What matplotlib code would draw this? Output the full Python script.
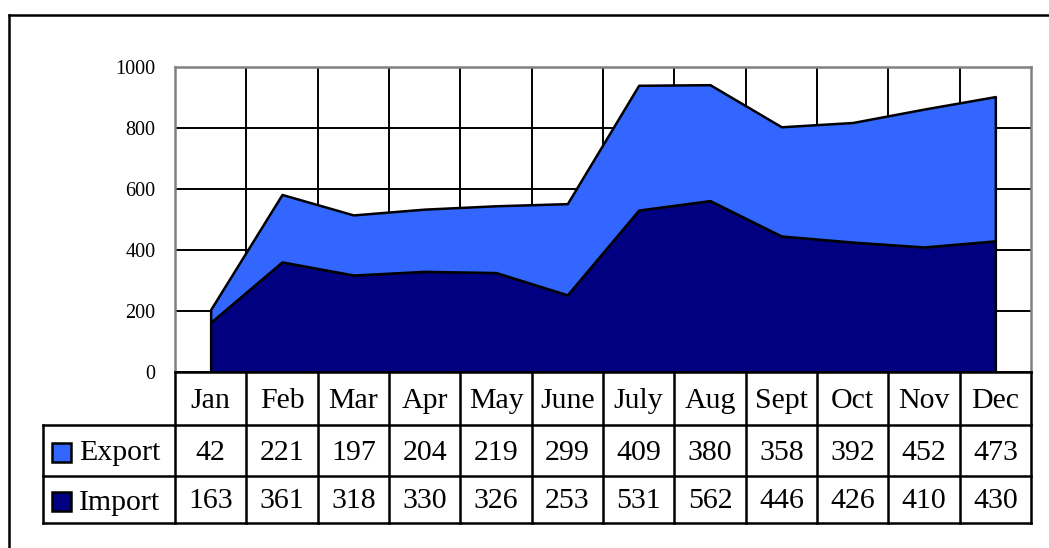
import numpy as np
import matplotlib
matplotlib.use("Agg")
import matplotlib.pyplot as plt
from matplotlib.lines import Line2D
from matplotlib.patches import Rectangle

# data
months = ["Jan", "Feb", "Mar", "Apr", "May", "June", "July", "Aug", "Sept", "Oct", "Nov", "Dec"]
export_vals = [42, 221, 197, 204, 219, 299, 409, 380, 358, 392, 452, 473]
import_vals = [163, 361, 318, 330, 326, 253, 531, 562, 446, 426, 410, 430]
yticks = [0, 200, 400, 600, 800, 1000]

export_color = "#3366FF"
import_color = "#000080"
serif = "Liberation Serif"

W, H = 1049, 548
fig = plt.figure(figsize=(W / 100, H / 100), dpi=100)

# plot area (pixel layout converted to figure fractions)
ax = fig.add_axes([175 / W, 1 - 372 / H, 856 / W, 305 / H])
x = np.arange(len(months))
imp = np.array(import_vals)
exp_ = np.array(export_vals)

ax.fill_between(x, 0, imp, facecolor=import_color, edgecolor="black", lw=1.8, zorder=2)
ax.fill_between(x, imp, imp + exp_, facecolor=export_color, edgecolor="black", lw=1.8, zorder=2)

ax.set_xlim(-0.5, len(months) - 0.5)
ax.set_ylim(0, 1000)
ax.set_xticks(x[:-1] + 0.5)
ax.set_yticks(yticks)
ax.set_yticklabels([str(v) for v in yticks], fontfamily=serif, fontsize=14.5)
ax.tick_params(axis="x", length=0, labelbottom=False)
ax.tick_params(axis="y", length=0, pad=14)
ax.grid(True, color="black", lw=1.4)
ax.set_axisbelow(True)
for side in ["left", "top", "right"]:
    ax.spines[side].set_color("#808080")
    ax.spines[side].set_linewidth(1.8)
ax.spines["bottom"].set_color("black")

# data table below the plot; rows laid out in pixel rows of the image
row_edges = [372, 425, 476, 523]
col_w = 856 / 12
xl = -0.5 - 132 / col_w
tax = fig.add_axes([43 / W, 1 - row_edges[-1] / H, (1031 - 43) / W, (row_edges[-1] - row_edges[0]) / H])
tax.set_xlim(xl, len(months) - 0.5)
tax.set_ylim(row_edges[-1], row_edges[0])
tax.axis("off")

lw = 1.8
xr = len(months) - 0.5
tax.plot([-0.5, xr], [row_edges[0]] * 2, color="black", lw=lw, clip_on=False)
for yy in row_edges[1:]:
    tax.plot([xl, xr], [yy, yy], color="black", lw=lw, clip_on=False)
for k in range(len(months) + 1):
    tax.plot([k - 0.5, k - 0.5], [row_edges[0], row_edges[-1]], color="black", lw=lw, clip_on=False)
tax.plot([xl, xl], [row_edges[1], row_edges[-1]], color="black", lw=lw, clip_on=False)

mids = [(row_edges[r] + row_edges[r + 1]) / 2 + 2 for r in range(3)]
fs = 21.5
for i, m in enumerate(months):
    tax.text(i, mids[0], m, ha="center", va="center", fontfamily=serif, fontsize=fs)
    tax.text(i, mids[1], str(export_vals[i]), ha="center", va="center", fontfamily=serif, fontsize=fs)
    tax.text(i, mids[2], str(import_vals[i]), ha="center", va="center", fontfamily=serif, fontsize=fs)

sq_x = xl + 9 / col_w
sq_w = 19 / col_w
for r, (name, col) in enumerate([("Export", export_color), ("Import", import_color)], start=1):
    tax.add_patch(Rectangle((sq_x, mids[r] - 9.5), sq_w, 19, facecolor=col,
                            edgecolor="black", lw=1.8, clip_on=False))
    tax.text(sq_x + sq_w + 8 / col_w, mids[r] + 1, name, ha="left", va="center",
             fontfamily=serif, fontsize=fs)

# outer frame (only left and top edges fall inside the image)
fig.add_artist(Line2D([9 / W, 9 / W], [0, 1 - 15 / H], transform=fig.transFigure, color="black", lw=1.8))
fig.add_artist(Line2D([9 / W, 1], [1 - 15 / H, 1 - 15 / H], transform=fig.transFigure, color="black", lw=1.8))

fig.savefig("out.png", dpi=100)
